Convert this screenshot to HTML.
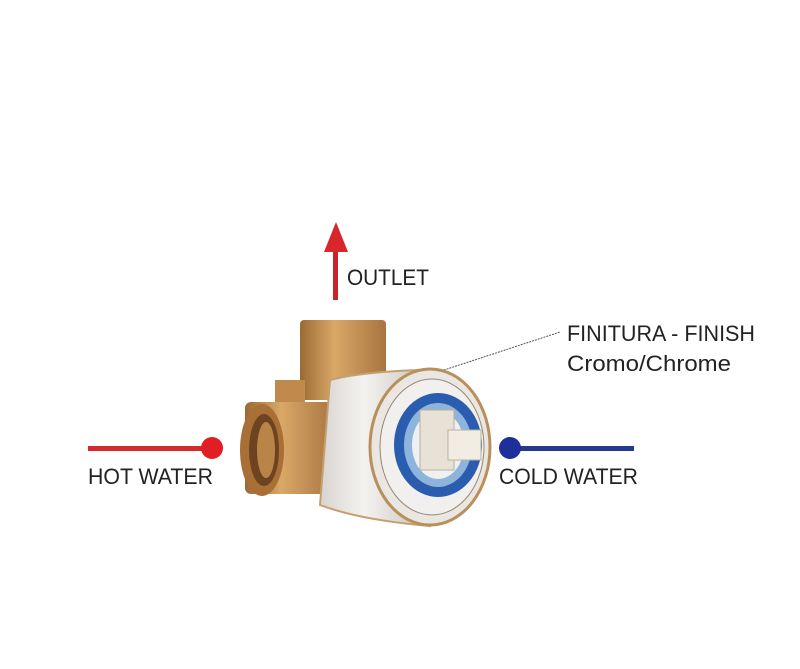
<!DOCTYPE html>
<html><head><meta charset="utf-8"><style>
html,body{margin:0;padding:0;background:#fff;}
svg{display:block;}
text{font-family:"Liberation Sans Narrow","Liberation Sans",sans-serif;fill:#222;}
</style></head><body>
<svg width="800" height="669" viewBox="0 0 800 669" xmlns="http://www.w3.org/2000/svg">
<defs>
<linearGradient id="brass" x1="0" y1="0" x2="1" y2="0">
<stop offset="0" stop-color="#9a6a34"/><stop offset="0.4" stop-color="#d9a868"/><stop offset="1" stop-color="#a87440"/>
</linearGradient>
<linearGradient id="chrome" x1="0" y1="0" x2="1" y2="0">
<stop offset="0" stop-color="#d8d4d0"/><stop offset="0.4" stop-color="#f4f2f0"/><stop offset="1" stop-color="#c8c2bc"/>
</linearGradient>
</defs>
<!-- outlet arrow -->
<rect x="333" y="248" width="5" height="52" fill="#c8252b"/>
<polygon points="336,222 324,252 348,252" fill="#d8262c"/>
<text x="347" y="285" font-size="22" textLength="82" lengthAdjust="spacingAndGlyphs">OUTLET</text>
<!-- hot -->
<rect x="88" y="446" width="120" height="5" fill="#d42a2e"/>
<circle cx="212" cy="448" r="11" fill="#e01e24"/>
<text x="88" y="484" font-size="22" textLength="125" lengthAdjust="spacingAndGlyphs">HOT WATER</text>
<!-- cold -->
<rect x="510" y="446" width="124" height="5" fill="#263a8a"/>
<circle cx="510" cy="448" r="11" fill="#1e2e9a"/>
<text x="499" y="484" font-size="22" textLength="139" lengthAdjust="spacingAndGlyphs">COLD WATER</text>
<!-- finish label -->
<line x1="438" y1="372" x2="560" y2="332" stroke="#555" stroke-width="1" stroke-dasharray="2,1"/>
<text x="567" y="341" font-size="22" textLength="188" lengthAdjust="spacingAndGlyphs">FINITURA - FINISH</text>
<text x="567" y="371" font-size="22" textLength="164" lengthAdjust="spacingAndGlyphs">Cromo/Chrome</text>
<!-- valve body -->
<rect x="300" y="320" width="86" height="80" rx="4" fill="url(#brass)"/>
<rect x="275" y="380" width="30" height="40" fill="#c08a4c"/>
<rect x="245" y="402" width="90" height="92" rx="6" fill="url(#brass)"/>
<ellipse cx="262" cy="450" rx="22" ry="46" fill="#a86f36"/>
<ellipse cx="264" cy="450" rx="15" ry="36" fill="#6e4420"/>
<ellipse cx="266" cy="450" rx="9" ry="28" fill="#b88448"/>
<!-- chrome cylinder -->
<path d="M330,380 Q360,372 420,370 L430,526 Q360,520 320,505 Z" fill="url(#chrome)" stroke="#c4a070" stroke-width="2"/>
<ellipse cx="430" cy="447" rx="60" ry="78" fill="#eae6e2" stroke="#b8905c" stroke-width="3"/>
<ellipse cx="432" cy="447" rx="52" ry="68" fill="#f2f0ee" stroke="#9a8670" stroke-width="1"/>
<ellipse cx="438" cy="445" rx="44" ry="52" fill="#2a5db0"/>
<ellipse cx="438" cy="445" rx="34" ry="42" fill="#8fb4dc"/>
<ellipse cx="438" cy="445" rx="26" ry="34" fill="#eef0f2"/>
<rect x="420" y="410" width="34" height="60" fill="#e8e2d6" stroke="#b8b0a0"/>
<rect x="448" y="430" width="33" height="30" fill="#f2ede2" stroke="#b8b0a0"/>
</svg>
</body></html>
